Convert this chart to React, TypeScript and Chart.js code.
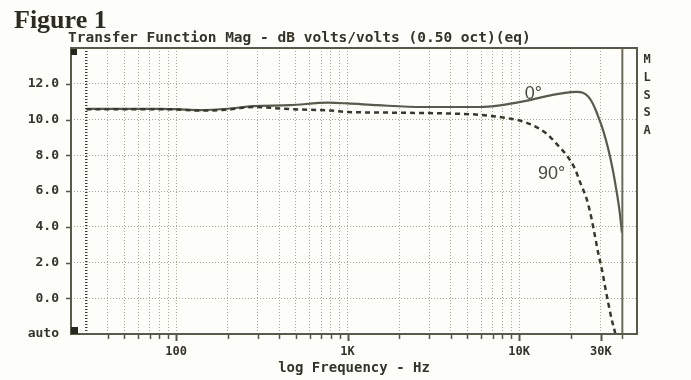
import React, { useEffect, useRef } from 'react';
import { Chart, registerables } from 'chart.js';
Chart.register(...registerables);

// ---- data ----
const freqs0 = [30, 50, 80, 100, 138, 200, 280, 460, 770, 1000, 1500, 2750, 5900, 7750, 10600, 14500, 18100, 21700, 23500, 25200, 26700, 28000, 29500, 31000, 33000, 35000, 37000, 38500, 39800];
const mag0 = [10.6, 10.6, 10.6, 10.58, 10.53, 10.6, 10.75, 10.8, 10.94, 10.9, 10.8, 10.7, 10.7, 10.79, 11.01, 11.31, 11.48, 11.54, 11.5, 11.3, 10.95, 10.52, 9.95, 9.35, 8.4, 7.3, 6.0, 4.9, 3.67];

const freqs90 = [30, 50, 80, 100, 138, 200, 280, 460, 800, 1000, 2000, 4500, 5900, 8480, 10100, 12100, 14500, 16900, 19000, 21200, 22700, 24800, 26500, 27700, 28900, 30400, 31700, 33100, 34700, 36300, 37000];
const mag90 = [10.58, 10.58, 10.58, 10.56, 10.5, 10.55, 10.7, 10.58, 10.5, 10.42, 10.38, 10.32, 10.26, 10.08, 9.94, 9.66, 9.2, 8.54, 7.98, 7.23, 6.48, 5.54, 4.42, 3.48, 2.55, 1.61, 0.67, -0.26, -1.2, -1.94, -2.4];

const xTickValues = [30, 40, 50, 60, 70, 80, 90, 100, 200, 300, 400, 500, 600, 700, 800, 900, 1000, 2000, 3000, 4000, 5000, 6000, 7000, 8000, 9000, 10000, 20000, 30000, 40000];
const xLabelValues = [100, 1000, 10000, 30000];
const xLabelTexts = ['100', '1K', '10K', '30K'];
const xMin = 24.4;
const xMax = 48700;
const xEdgeLine = 40000;
const xStartLine = 30;

const yMin = -2;
const yMax = 14;
const yStep = 2;

const curveLabels = ['0°', '90°'];
const curveLabelFreqs = [10800, 12900];
const curveLabelDb = [11.16, 6.67];

const titleText = 'Transfer Function Mag - dB volts/volts (0.50 oct)(eq)';
const xTitleText = 'log Frequency - Hz';
const figureText = 'Figure 1';
const sideText = ['M', 'L', 'S', 'S', 'A'];

const TEXT = '#34342a';
const GRID = '#a6a696';
const MONO = '"DejaVu Sans Mono", monospace';

export default function App() {
  const ref = useRef<HTMLCanvasElement>(null);
  useEffect(() => {
    document.body.style.margin = '0';
    const canvas = ref.current!;
    const deco = {
      id: 'deco',
      beforeDraw(chart: any) {
        const { ctx, width, height } = chart;
        ctx.save();
        ctx.fillStyle = '#fdfdf9';
        ctx.fillRect(0, 0, width, height);
        ctx.restore();
      },
      afterDraw(chart: any) {
        const { ctx, chartArea: a } = chart;
        const xs = chart.scales.x;
        const ys = chart.scales.y;
        ctx.save();
        // 40K solid line
        const x40 = xs.getPixelForValue(xEdgeLine);
        ctx.strokeStyle = '#6a6a5a';
        ctx.lineWidth = 2;
        ctx.beginPath();
        ctx.moveTo(x40, a.top);
        ctx.lineTo(x40, a.bottom);
        ctx.stroke();
        // frame
        ctx.strokeStyle = '#5a5a4a';
        ctx.lineWidth = 2;
        ctx.strokeRect(a.left, a.top, a.right - a.left, a.bottom - a.top);
        // corner squares
        ctx.fillStyle = '#26261e';
        ctx.fillRect(a.left, a.top + 1, 6, 6);
        ctx.fillRect(a.left, a.bottom - 7, 7, 7);
        // x tick marks
        ctx.strokeStyle = '#55554a';
        for (const v of xTickValues) {
          if (v === xStartLine) continue;
          const px = Math.round(xs.getPixelForValue(v)) + 0.5;
          const major = xLabelValues.includes(v);
          ctx.lineWidth = major ? 2 : 1.5;
          ctx.beginPath();
          ctx.moveTo(px, a.bottom);
          ctx.lineTo(px, a.bottom + (major ? 7 : 5));
          ctx.stroke();
        }
        // y tick marks
        ctx.lineWidth = 1.5;
        for (let v = 0; v <= 12; v += yStep) {
          const py = Math.round(ys.getPixelForValue(v)) + 0.5;
          ctx.beginPath();
          ctx.moveTo(a.left - 5, py);
          ctx.lineTo(a.left, py);
          ctx.stroke();
        }
        // texts
        ctx.fillStyle = '#2c2c22';
        ctx.textBaseline = 'alphabetic';
        ctx.textAlign = 'left';
        ctx.font = 'bold 26px "Liberation Serif", serif';
        ctx.fillText(figureText, 14, 28);
        ctx.fillStyle = TEXT;
        ctx.font = `bold 14.5px ${MONO}`;
        ctx.fillText(titleText, a.left - 3, 42);
        ctx.font = `bold 12px ${MONO}`;
        ctx.textAlign = 'center';
        sideText.forEach((c, i) => ctx.fillText(c, a.right + 10, 63 + i * 17.8));
        ctx.font = '18px "Liberation Sans", Arial, sans-serif';
        ctx.textAlign = 'left';
        ctx.fillStyle = '#4a4a40';
        curveLabels.forEach((t, i) => {
          ctx.fillText(t, xs.getPixelForValue(curveLabelFreqs[i]), ys.getPixelForValue(curveLabelDb[i]));
        });
        ctx.restore();
      },
    };

    const chart = new Chart(canvas, {
      type: 'line',
      data: {
        datasets: [
          {
            label: '90°',
            data: freqs90.map((f, i) => ({ x: f, y: mag90[i] })),
            borderColor: '#38382e',
            borderWidth: 2.5,
            borderDash: [5, 4],
            pointRadius: 0,
            fill: false,
            cubicInterpolationMode: 'monotone',
          },
          {
            label: '0°',
            data: freqs0.map((f, i) => ({ x: f, y: mag0[i] })),
            borderColor: '#5a5a4c',
            borderWidth: 2.2,
            pointRadius: 0,
            fill: false,
            cubicInterpolationMode: 'monotone',
          },
        ],
      },
      options: {
        responsive: false,
        animation: false,
        events: [],
        layout: { padding: { top: 48, right: 54, left: 0, bottom: 0 } },
        plugins: { legend: { display: false }, title: { display: false }, tooltip: { enabled: false } },
        scales: {
          x: {
            type: 'logarithmic',
            min: xMin,
            max: xMax,
            afterBuildTicks: (s: any) => {
              s.ticks = xTickValues.map((v) => ({ value: v }));
            },
            afterFit: (s: any) => {
              s.height = 46;
            },
            ticks: {
              autoSkip: false,
              maxRotation: 0,
              minRotation: 0,
              padding: 11,
              color: TEXT,
              font: { family: MONO, size: 12, weight: 'bold' },
              callback: (v: any) => {
                const i = xLabelValues.indexOf(Number(v));
                return i >= 0 ? xLabelTexts[i] : '';
              },
            },
            grid: {
              drawTicks: false,
              color: (c: any) => (c.tick && c.tick.value === xStartLine ? '#3c3c30' : c.tick && c.tick.value === xEdgeLine ? 'rgba(0,0,0,0)' : GRID),
              lineWidth: (c: any) => (c.tick && c.tick.value === xStartLine ? 2.5 : 1),
            },
            border: { display: false, dash: [1, 2] },
            title: {
              display: true,
              text: xTitleText,
              color: TEXT,
              font: { family: MONO, size: 14, weight: 'bold' },
              padding: { top: 0, bottom: 3 },
            },
          },
          y: {
            min: yMin,
            max: yMax,
            afterFit: (s: any) => {
              s.width = 71;
            },
            ticks: {
              stepSize: yStep,
              padding: 12,
              color: TEXT,
              font: { family: MONO, size: 13, weight: 'bold' },
              callback: (v: any) => (v === yMin ? 'auto' : v === yMax ? '' : Number(v).toFixed(1)),
            },
            grid: {
              drawTicks: false,
              color: (c: any) => (c.tick && (c.tick.value === yMin || c.tick.value === yMax) ? 'rgba(0,0,0,0)' : GRID),
              lineWidth: 1,
            },
            border: { display: false, dash: [1, 2] },
          },
        },
      },
      plugins: [deco],
    } as any);
    return () => chart.destroy();
  }, []);
  return (
    <div style={{ position: 'fixed', left: 0, top: 0, width: 691, height: 380 }}>
      <canvas ref={ref} width={691} height={380} style={{ display: 'block' }} />
    </div>
  );
}
